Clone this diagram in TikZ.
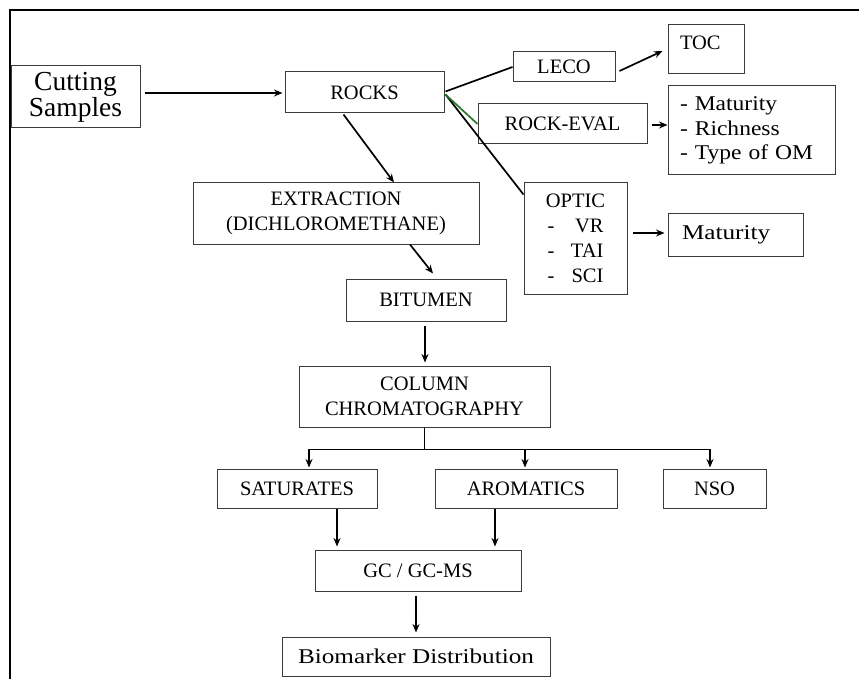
\documentclass[tikz,border=0pt]{standalone}
\usepackage{fontspec}
\setmainfont{Liberation Serif}
\newfontfamily\widefont[FakeStretch=1.2]{Liberation Serif}
\newfontfamily\midfont[FakeStretch=1.12]{Liberation Serif}
\usetikzlibrary{arrows.meta,calc}
\definecolor{boxline}{RGB}{60,60,60}
\definecolor{grn}{RGB}{40,120,40}
\begin{document}
\begin{tikzpicture}[x=1pt,y=-1pt,
  box/.style={draw=boxline,line width=1pt,inner sep=0pt,align=center,font=\fontsize{20.5pt}{25pt}\selectfont},
  widetext/.style={font=\widefont\fontsize{21pt}{24.5pt}\selectfont},
  listtext/.style={font=\midfont\fontsize{21pt}{24.5pt}\selectfont},
  arr/.style={line width=1.7pt,-{Stealth[length=8.5pt,width=7pt]}},
  ln/.style={line width=1.7pt}]
\useasboundingbox (0,0) rectangle (859,679);
\draw[line width=1.5pt] (10,679) -- (10,10) -- (859,10);

\node[box,minimum width=129pt,minimum height=62pt,font=\fontsize{27.5pt}{25pt}\selectfont] (cut) at (75.5,97) {Cutting\\Samples};
\node[box,minimum width=159pt,minimum height=41pt] (rocks) at (364.5,92.5) {ROCKS};
\node[box,minimum width=102pt,minimum height=30pt] (leco) at (564,67) {LECO};
\node[box,minimum width=76pt,minimum height=49pt,text width=52pt,align=left,text depth=14pt] (toc) at (706,49.5) {TOC};
\node[box,minimum width=169pt,minimum height=40pt] (reval) at (562.5,124) {ROCK-EVAL};
\node[box,listtext,minimum width=167pt,minimum height=89pt,text width=143pt,align=left] (list) at (751.5,130.5) {- Maturity\\- Richness\\- Type of OM};
\node[box,minimum width=103pt,minimum height=111pt] (optic) at (575.5,238.5) {OPTIC\\\hbox to 56pt{-\hfil VR}\\\hbox to 56pt{-\hfil TAI}\\\hbox to 56pt{-\hfil SCI}};
\node[box,widetext,minimum width=135pt,minimum height=42pt,text width=107pt,align=left] (mat) at (735.5,235) {Maturity};
\node[box,minimum width=286pt,minimum height=61pt] (ext) at (336,213.5) {EXTRACTION\\(DICHLOROMETHANE)};
\node[box,minimum width=160pt,minimum height=42pt] (bit) at (426,300) {BITUMEN};
\node[box,minimum width=251pt,minimum height=61pt] (col) at (424.5,396.5) {COLUMN\\CHROMATOGRAPHY};
\node[box,minimum width=160pt,minimum height=39pt] (sat) at (297,488.5) {SATURATES};
\node[box,minimum width=182pt,minimum height=39pt] (aro) at (526,488.5) {AROMATICS};
\node[box,minimum width=103pt,minimum height=39pt] (nso) at (714.5,488.5) {NSO};
\node[box,minimum width=206pt,minimum height=41pt] (gc) at (418,570.5) {GC / GC-MS};
\node[box,widetext,minimum width=268pt,minimum height=39pt] (bio) at (416,656.5) {Biomarker Distribution};

\coordinate (split) at ($(col.south)+(0,22)$);

\draw[arr] ($(cut.east|-rocks.west)+(4,0.5)$) -- ($(rocks.west)+(-2,0.5)$);
\draw[arr] ($(rocks.south)+(-21,1)$) -- ($(ext.north)+(58,0)$);
\draw[ln] ($(rocks.east)+(1,-1)$) -- (leco.west);
\draw[ln] ($(rocks.east)+(1,2)$) -- ($(optic.north west)+(0,12)$);
\draw[line width=1.7pt,grn] ($(rocks.east)+(1,2)$) -- (reval.west);
\draw[arr] ($(leco.east)+(4,4)$) -- ($(toc.west)+(-5,1.5)$);
\draw[arr] ($(reval.east)+(4,1)$) -- ($(list.west|-reval.east)+(0,1)$);
\draw[arr] ($(optic.east|-mat.west)+(5,-2)$) -- ($(mat.west)+(-3,-2)$);
\draw[arr] ($(ext.south)+(74,0)$) -- ($(bit.north)+(7,-5)$);
\draw[arr] ($(bit.south)+(-1,4)$) -- ($(col.north)+(0.5,-3)$);
\draw[ln] (col.south) -- (split);
\draw[arr] (split) -| ($(sat.north)+(12,-1)$);
\draw[arr] (split) -| ($(aro.north)+(-1,-1)$);
\draw[arr] (split) -| ($(nso.north)+(-4.5,-1)$);
\draw[arr] ($(sat.south)+(40,0)$) -- ($(sat.south|-gc.north)+(40,-3)$);
\draw[arr] ($(aro.south)+(-31,0)$) -- ($(aro.south|-gc.north)+(-31,-3)$);
\draw[arr] ($(gc.south)+(-2,4)$) -- ($(bio.north)+(0,-4)$);
\end{tikzpicture}
\end{document}
